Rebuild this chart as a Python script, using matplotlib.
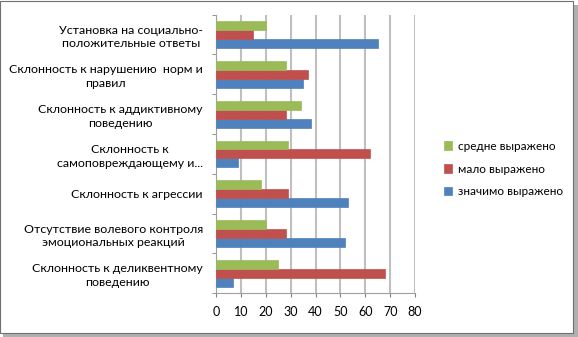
import numpy as np
import matplotlib.pyplot as plt
from matplotlib.patches import Rectangle

plt.rcParams['font.family'] = ['Lato', 'DejaVu Sans']

categories = [
    'Склонность к деликвентному\nповедению',
    'Отсутствие волевого контроля\nэмоциональных реакций',
    'Склонность к агрессии',
    'Склонность к\nсамоповреждающему и...',
    'Склонность к аддиктивному\nповедению',
    'Склонность к нарушению  норм и\nправил',
    'Установка на социально-\nположительные ответы',
]
znachimo = [7, 52, 53, 9, 38, 35, 65]
malo = [68, 28, 29, 62, 28, 37, 15]
sredne = [25, 20, 18, 29, 34, 28, 20]

series = [
    ('значимо выражено', znachimo, '#4F81BD'),
    ('мало выражено', malo, '#C0504D'),
    ('средне выражено', sredne, '#9BBB59'),
]

fig = plt.figure(figsize=(5.78, 3.37), dpi=100)

# outer frame with a soft shadow
fig.patches.append(Rectangle((0.006, 0.0), 0.994, 0.985, transform=fig.transFigure,
                             facecolor='#B0B0B0', edgecolor='none', zorder=-2))
fig.patches.append(Rectangle((0.0, 0.012), 0.992, 0.985, transform=fig.transFigure,
                             facecolor='white', edgecolor='#707070', linewidth=0.8, zorder=-1))

ax = fig.add_axes([0.3737, 0.1297, 0.3443, 0.8267])
ax.set_facecolor('none')

y = np.arange(len(categories))
h = 0.226
for i, (name, vals, color) in enumerate(series):
    ax.barh(y + (i - 1) * h, vals, height=h, color=color, edgecolor=color,
            linewidth=0.5, label=name, zorder=3)

ax.set_xlim(0, 80)
ax.set_ylim(-0.5, len(categories) - 0.5)
ax.set_xticks(np.arange(0, 81, 10))
ax.set_yticks(y)
ax.set_yticklabels(categories, multialignment='center', fontsize=8.9, linespacing=1.3)
ax.set_yticks(np.arange(-0.5, len(categories), 1), minor=True)
ax.tick_params(axis='y', which='major', length=0, pad=9.5)
ax.tick_params(axis='y', which='minor', length=3, color='#808080')
ax.tick_params(axis='x', labelsize=9, length=3, color='#808080', pad=6)
ax.grid(axis='x', color='#BFBFBF', linewidth=1.5, zorder=0)

for side in ['top', 'right']:
    ax.spines[side].set_visible(False)
ax.spines['left'].set_color('#A0A0A0')
ax.spines['bottom'].set_color('#A0A0A0')
ax.spines['bottom'].set_linestyle((0, (1, 1)))

handles, labels = ax.get_legend_handles_labels()
ax.legend(handles[::-1], labels[::-1], loc='center left', bbox_to_anchor=(1.09, 0.446),
          frameon=False, fontsize=8.5, handlelength=0.7, handleheight=0.7,
          handletextpad=0.5, labelspacing=1.0)

fig.savefig('out.png', dpi=100)
